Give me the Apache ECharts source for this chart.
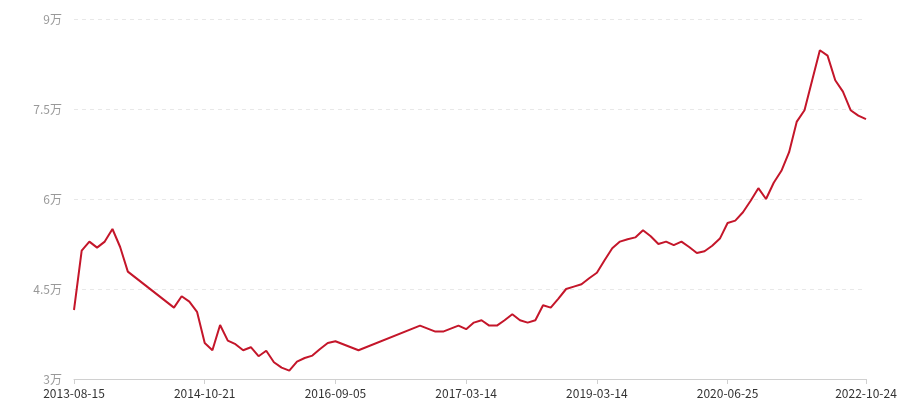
<!DOCTYPE html>
<html>
<head>
<meta charset="utf-8">
<script src="https://cdn.jsdelivr.net/npm/echarts@6/dist/echarts.min.js"></script>
<style>html,body{margin:0;padding:0;background:#fff;}#c{width:900px;height:400px;}</style>
</head>
<body>
<div id="c"></div>
<script>
var categories = [
  '2013-08-15','2013-09-10','2013-10-08','2013-11-05','2013-12-02','2013-12-30','2014-01-27','2014-02-24','2014-03-24','2014-04-21',
  '2014-05-19','2014-06-16','2014-07-14','2014-08-04','2014-08-25','2014-09-15','2014-10-06','2014-10-21','2014-11-24','2015-01-05',
  '2015-02-16','2015-03-30','2015-05-11','2015-06-22','2015-08-03','2015-09-14','2015-10-26','2015-12-07','2016-01-18','2016-02-29',
  '2016-04-11','2016-05-23','2016-06-27','2016-08-01','2016-09-05','2016-09-16','2016-09-27','2016-10-10','2016-10-21','2016-11-01',
  '2016-11-14','2016-11-25','2016-12-06','2016-12-19','2016-12-30','2017-01-10','2017-01-20','2017-02-01','2017-02-10','2017-02-20',
  '2017-03-02','2017-03-14','2017-04-24','2017-06-05','2017-07-17','2017-08-28','2017-10-09','2017-11-20','2018-01-02','2018-02-12',
  '2018-03-26','2018-05-07','2018-06-18','2018-07-30','2018-09-10','2018-10-22','2018-12-03','2019-01-21','2019-03-14','2019-04-08',
  '2019-05-06','2019-06-03','2019-07-01','2019-07-29','2019-08-26','2019-09-23','2019-10-21','2019-11-18','2019-12-16','2020-01-13',
  '2020-02-10','2020-03-09','2020-04-06','2020-05-04','2020-06-01','2020-06-25','2020-08-10','2020-09-21','2020-11-02','2020-12-14',
  '2021-01-25','2021-03-08','2021-04-19','2021-05-31','2021-07-12','2021-08-23','2021-10-04','2021-11-15','2022-01-04','2022-02-21',
  '2022-04-04','2022-06-06','2022-08-15','2022-10-24'
];
var values = [
  41500,51400,52900,51900,52900,55000,52000,47900,null,null,
  null,null,null,41900,43800,42900,41200,36000,34800,39000,
  36400,35800,34800,35300,33800,34700,32800,31900,31400,32900,
  33500,33900,35000,36000,36300,null,null,34800,null,null,
  null,null,null,null,null,38900,null,37900,37900,38400,
  38900,38300,39400,39800,38900,38900,39800,40800,39800,39400,
  39800,42300,41900,43400,45000,45400,45800,46800,47700,49800,
  51800,52900,53300,53600,54800,53800,52500,52900,52300,52900,
  52000,51000,51300,52200,53400,56000,56400,57800,59700,61800,
  60000,62700,64700,67800,72900,74800,79800,84800,83900,79800,
  77900,74800,73900,73300
];
var yMin = 30000, yMax = 90000, yStep = 15000;

var chart = echarts.init(document.getElementById('c'));
chart.setOption({
  animation: false,
  grid: { left: 74, right: 34, top: 19, bottom: 21, containLabel: false },
  xAxis: {
    type: 'category',
    data: categories,
    boundaryGap: false,
    axisLine: { lineStyle: { color: '#d0d0d0', width: 1 } },
    axisTick: { show: true, interval: 16, length: 5, lineStyle: { color: '#d0d0d0' } },
    axisLabel: { interval: 16, showMaxLabel: true, color: '#333', fontSize: 12, margin: 8,
      fontFamily: 'Noto Sans CJK SC, Noto Sans, sans-serif' },
    splitLine: { show: false }
  },
  yAxis: {
    type: 'value',
    min: yMin, max: yMax, interval: yStep,
    axisLine: { show: false },
    axisTick: { show: false },
    axisLabel: { color: '#999', fontSize: 12, margin: 12,
      fontFamily: 'Noto Sans CJK SC, Noto Sans, sans-serif',
      formatter: function (v) { return (v / 10000) + '万'; } },
    splitLine: { show: true, lineStyle: { color: '#e8e8e8', type: [4, 4], width: 1 } }
  },
  series: [{
    type: 'line',
    data: values,
    connectNulls: true,
    showSymbol: false,
    symbol: 'none',
    lineStyle: { color: '#c4162a', width: 2 },
    itemStyle: { color: '#c4162a' }
  }]
});
</script>
</body>
</html>
